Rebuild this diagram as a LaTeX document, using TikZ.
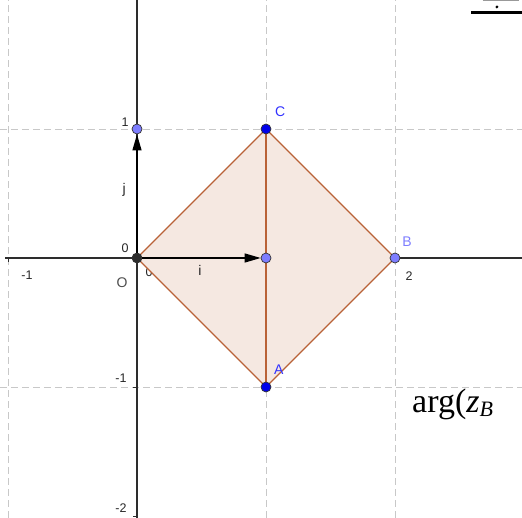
\documentclass[tikz,border=0pt]{standalone}
\usepackage{fontspec}
\setmainfont{Liberation Sans}
\newfontfamily\serifface{Liberation Serif}
\usetikzlibrary{arrows.meta}
\definecolor{edgebrown}{RGB}{185,98,55}
\definecolor{fillpeach}{RGB}{245,232,225}
\definecolor{ptblue}{RGB}{0,0,235}
\definecolor{ptlight}{RGB}{125,125,255}
\definecolor{lblblue}{RGB}{50,50,255}
\definecolor{lbllight}{RGB}{125,125,255}
\definecolor{gridgray}{RGB}{200,200,200}
\definecolor{axisgray}{RGB}{45,45,45}

\begin{document}
\begin{tikzpicture}[x=129pt, y=129pt,
    gridline/.style={gridgray, dash pattern=on 7pt off 4pt, line width=0.8pt},
    axisline/.style={axisgray, line width=1.2pt},
    side/.style={edgebrown, line width=1.2pt},
    vec/.style={-{Triangle[length=16pt,width=9pt]}, black, line width=1.2pt},
    dot/.style={circle, draw=black!80, line width=0.7pt, inner sep=0pt, minimum size=10pt},
    tick/.style={font=\fontsize{12.5}{14}\selectfont, text=black!85, inner sep=0pt},
    lbl/.style={font=\fontsize{14}{16}\selectfont, inner sep=0pt}
]
\useasboundingbox (-1.062,-2.0155) rectangle (2.9845,2.0);

% grid
\foreach \gx in {-1,1,2}
  \draw[gridline] (\gx,-2.0155) -- (\gx,2.0);
\foreach \gy in {-1,1}
  \draw[gridline] (-1.062,\gy) -- (2.9845,\gy);

% axes with ticks
\draw[axisline] (-1.023,0) -- (2.9845,0);
\draw[axisline] (0,2.0) -- (0,-2.0155);
\foreach \tx in {-1,1,2}
  \draw[axisline, line width=0.8pt] (\tx,0) -- (\tx,-0.03);
\foreach \ty in {-2,-1,1}
  \draw[axisline, line width=0.8pt] (0,\ty) -- (-0.03,\ty);

% tick labels
\node[tick] (xm1) at (-0.853,-0.132) {-1};
\node[tick] (x0) at (0.093,-0.109) {0};
\node[tick] (x1) at (1.116,-0.14) {1};
\node[tick] (x2) at (2.109,-0.14) {2};
\node[tick] (y1) at (-0.093,1.054) {1};
\node[tick] (y0) at (-0.093,0.078) {0};
\node[tick] (ym1) at (-0.124,-0.93) {-1};
\node[tick] (ym2) at (-0.124,-1.94) {-2};

% square OABC
\coordinate (o) at (0,0);
\coordinate (a) at (1,-1);
\coordinate (b) at (2,0);
\coordinate (c) at (1,1);
\filldraw[side, fill=fillpeach] (o) -- (a) -- (b) -- (c) -- cycle;
\draw[side] (c) -- (a);

% points
\node[dot, fill=axisgray] (O) at (o) {};
\node[dot, fill=ptlight] (I) at (1,0) {};
\node[dot, fill=ptlight] (J) at (0,1) {};
\node[dot, fill=ptblue] (A) at (a) {};
\node[dot, fill=ptlight] (B) at (b) {};
\node[dot, fill=ptblue] (C) at (c) {};

% unit vectors
\draw[vec] (O) -- (I);
\draw[vec] (O) -- (J);

% names
\node[lbl, text=black!70] (nO) at (-0.116,-0.194) {O};
\node[lbl, text=black!85] (ni) at (0.488,-0.1) {i};
\node[lbl, text=black!85] (nj) at (-0.1,0.527) {j};
\node[lbl, text=lblblue] (nA) at (1.1,-0.868) {A};
\node[lbl, text=lbllight] (nB) at (2.093,0.124) {B};
\node[lbl, text=lblblue] (nC) at (1.109,1.132) {C};

% cut text on the right
\node[anchor=base west, inner sep=0pt, font=\serifface\fontsize{34}{38}\selectfont] (arg) at (2.132,-1.2)
  {arg(\textit{z}\raisebox{-0.25ex}{\fontsize{22}{24}\selectfont\textit{B}}};
\fill (2.59,1.89) rectangle (2.9845,1.914);
\fill (2.79,1.946) circle (1.6pt);
\draw[black!40, line width=0.6pt] (2.68,1.997) -- (2.96,1.997);
\end{tikzpicture}
\end{document}
